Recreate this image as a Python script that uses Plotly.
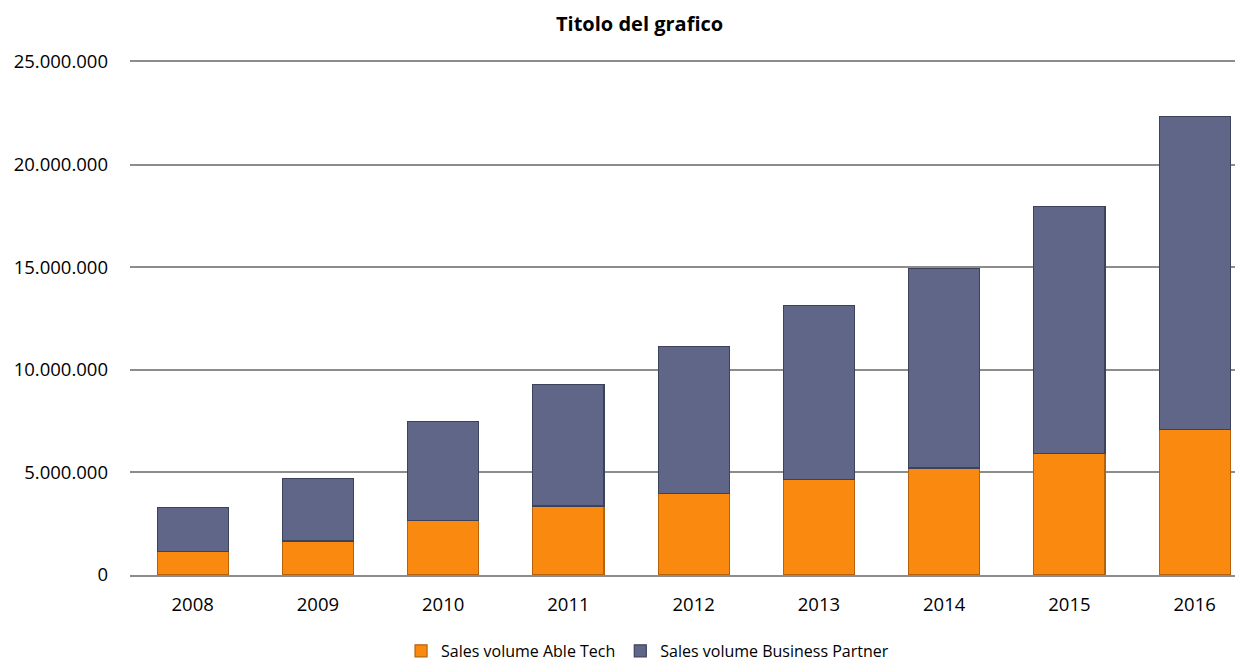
import plotly.graph_objects as go

years = ["2008", "2009", "2010", "2011", "2012", "2013", "2014", "2015", "2016"]
able_tech = [1140000, 1660000, 2650000, 3360000, 3970000, 4650000, 5210000, 5930000, 7090000]
business_partner = [2140000, 3030000, 4820000, 5930000, 7160000, 8490000, 9720000, 12020000, 15240000]
y_ticks = [0, 5000000, 10000000, 15000000, 20000000, 25000000]

FONT = "Open Sans"

fig = go.Figure()
fig.add_trace(go.Bar(
    x=years, y=able_tech, name="Sales volume Able Tech",
    marker=dict(color="#F98A0F", line=dict(color="#B5620A", width=1.2)),
    width=0.567,
))
fig.add_trace(go.Bar(
    x=years, y=business_partner, name="Sales volume Business Partner",
    marker=dict(color="#5F6687", line=dict(color="#3D425C", width=1.2)),
    width=0.567,
))

fig.update_layout(
    barmode="stack",
    width=1235, height=660,
    margin=dict(l=122, r=0, t=54, b=93, autoexpand=False),
    paper_bgcolor="white", plot_bgcolor="white",
    separators=",.",
    font=dict(family=FONT, size=18.5, color="#000000"),
    showlegend=True,
    legend=dict(orientation="h", x=0.465, xanchor="center", y=-0.148, yanchor="middle",
                font=dict(size=16, family=FONT), traceorder="normal"),
    annotations=[dict(text="<b>Titolo del grafico</b>", xref="paper", yref="paper",
                      x=0.458, y=1.0, yshift=54, xanchor="center", yanchor="top",
                      showarrow=False, font=dict(size=20, family=FONT, color="#000"))],
)
fig.update_xaxes(
    type="category", range=[-0.5, 8.386],
    showline=True, mirror=True, linecolor="#8C8C8C", linewidth=1.5,
    showgrid=False, ticks="", ticklabelstandoff=12,
    tickfont=dict(size=18.5, family=FONT),
)
fig.update_yaxes(
    range=[0, 25000000], tickvals=y_ticks, tickformat=",d",
    showgrid=True, gridcolor="#8C8C8C", gridwidth=1.5,
    zeroline=False, showline=False, ticks="", ticklabelstandoff=21,
    tickfont=dict(size=18.5, family=FONT),
)

fig.write_html("out.html")
